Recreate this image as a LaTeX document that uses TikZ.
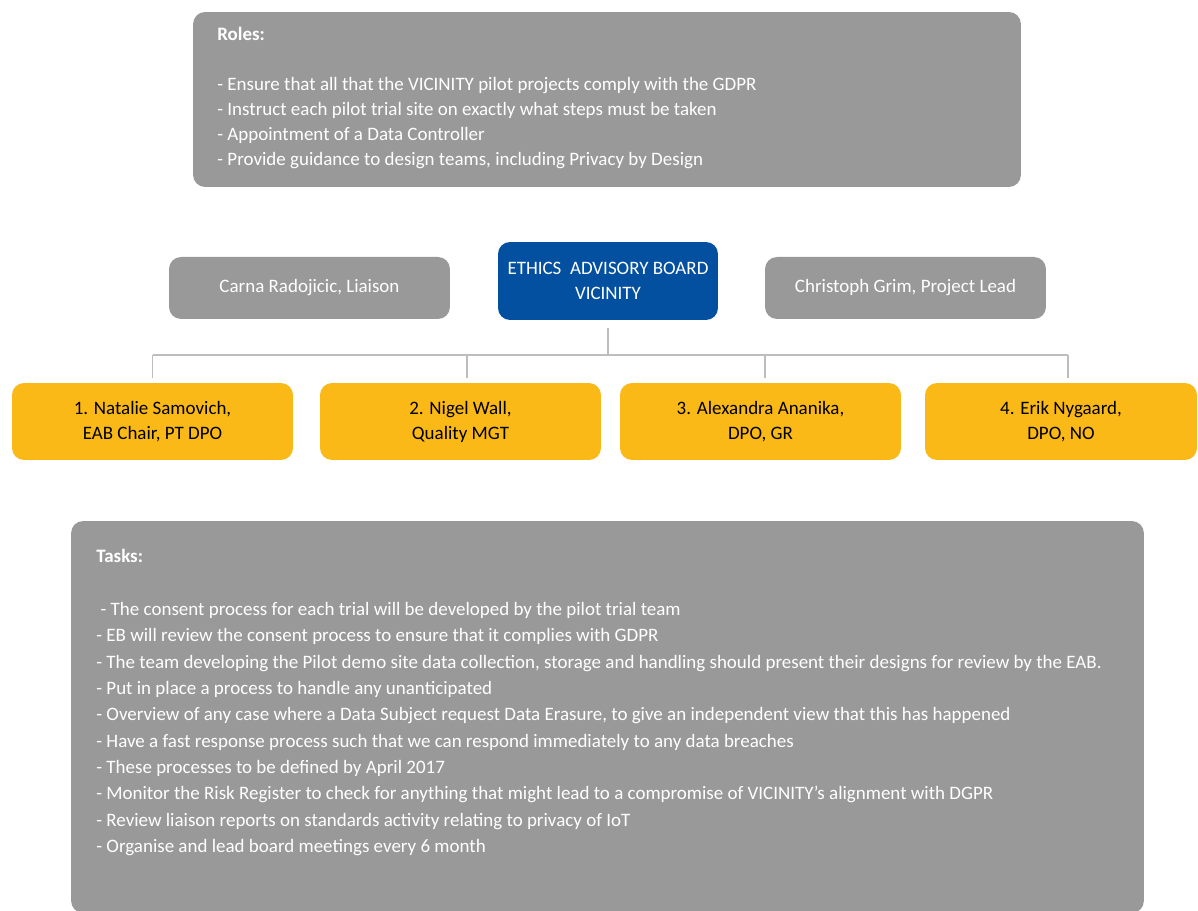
\documentclass[tikz,border=0pt]{standalone}
\usepackage{fontspec}
\setmainfont{Carlito}

\definecolor{boxgray}{HTML}{999999}
\definecolor{eabblue}{HTML}{0450A0}
\definecolor{memberyellow}{HTML}{FBB917}
\definecolor{linkgray}{HTML}{BDBDBD}

\tikzset{
  panel/.style={fill=boxgray, rounded corners=0.24cm, text=white},
  person/.style={panel, minimum width=5.62cm, minimum height=1.24cm},
  board/.style={fill=eabblue, rounded corners=0.24cm, text=white, align=center,
    minimum width=4.4cm, minimum height=1.56cm},
  member/.style={fill=memberyellow, rounded corners=0.24cm, text=black, align=center,
    minimum width=5.62cm, minimum height=1.54cm},
  notes/.style={text=white, align=left, anchor=north west, inner sep=0pt},
  link/.style={draw=linkgray, line width=0.6pt}
}

\begin{document}
\begin{tikzpicture}[x=0.02cm, y=-0.02cm, font=\fontsize{10.8}{14.2}\selectfont]
    \useasboundingbox (0,0) rectangle (1198,911);

    % roles
    \node[panel, minimum width=16.56cm, minimum height=3.5cm] (roles) at (607,99.5) {};
    \node[notes] (rolestext) at (217,27) {\textbf{Roles:}\\ \\
      - Ensure that all that the VICINITY pilot projects comply with the GDPR\\
      - Instruct each pilot trial site on exactly what steps must be taken\\
      - Appointment of a Data Controller\\
      - Provide guidance to design teams, including Privacy by Design};

    % board
    \node[board] (eab) at (608,281) {ETHICS\ \ ADVISORY BOARD\\VICINITY};
    \node[person] (liaison) at (309.5,288) {Carna Radojicic, Liaison};
    \node[person] (lead) at (905.5,288) {Christoph Grim, Project Lead};

    % members
    \node[member] (m1) at (152.5,421.5) {1. Natalie Samovich,\\EAB Chair, PT DPO};
    \node[member] (m2) at (460.5,421.5) {2. Nigel Wall,\\Quality MGT};
    \node[member] (m3) at (760.5,421.5) {3. Alexandra Ananika,\\DPO, GR};
    \node[member, minimum width=5.44cm] (m4) at (1061,421.5) {4. Erik Nygaard,\\DPO, NO};

    \coordinate (bus) at (0,355);
    \draw[link, shorten <=0.16cm] (eab.south) -- (eab.south |- bus);
    \draw[link] (m1.north |- bus) -- ([xshift=0.14cm]m4.north |- bus);
    \draw[link, shorten >=0.1cm] (m1.north |- bus) -- (m1.north);
    \draw[link, shorten >=0.1cm] ([xshift=0.13cm]m2.north |- bus) -- ([xshift=0.13cm]m2.north);
    \draw[link, shorten >=0.1cm] ([xshift=0.09cm]m3.north |- bus) -- ([xshift=0.09cm]m3.north);
    \draw[link, shorten >=0.1cm] ([xshift=0.14cm]m4.north |- bus) -- ([xshift=0.14cm]m4.north);

    % tasks
    \node[panel, minimum width=21.46cm, minimum height=7.84cm] (tasks) at (607.5,717) {};
    \node[notes, font=\fontsize{10.8}{15}\selectfont] (taskstext) at (96,549) {\textbf{Tasks:}\\ \\
      \ - The consent process for each trial will be developed by the pilot trial team\\
      - EB will review the consent process to ensure that it complies with GDPR\\
      - The team developing the Pilot demo site data collection, storage and handling should present their designs for review by the EAB.\\
      - Put in place a process to handle any unanticipated\\
      - Overview of any case where a Data Subject request Data Erasure, to give an independent view that this has happened\\
      - Have a fast response process such that we can respond immediately to any data breaches\\
      - These processes to be defined by April 2017\\
      - Monitor the Risk Register to check for anything that might lead to a compromise of VICINITY's alignment with DGPR\\
      - Review liaison reports on standards activity relating to privacy of IoT\\
      - Organise and lead board meetings every 6 month};
\end{tikzpicture}
\end{document}
